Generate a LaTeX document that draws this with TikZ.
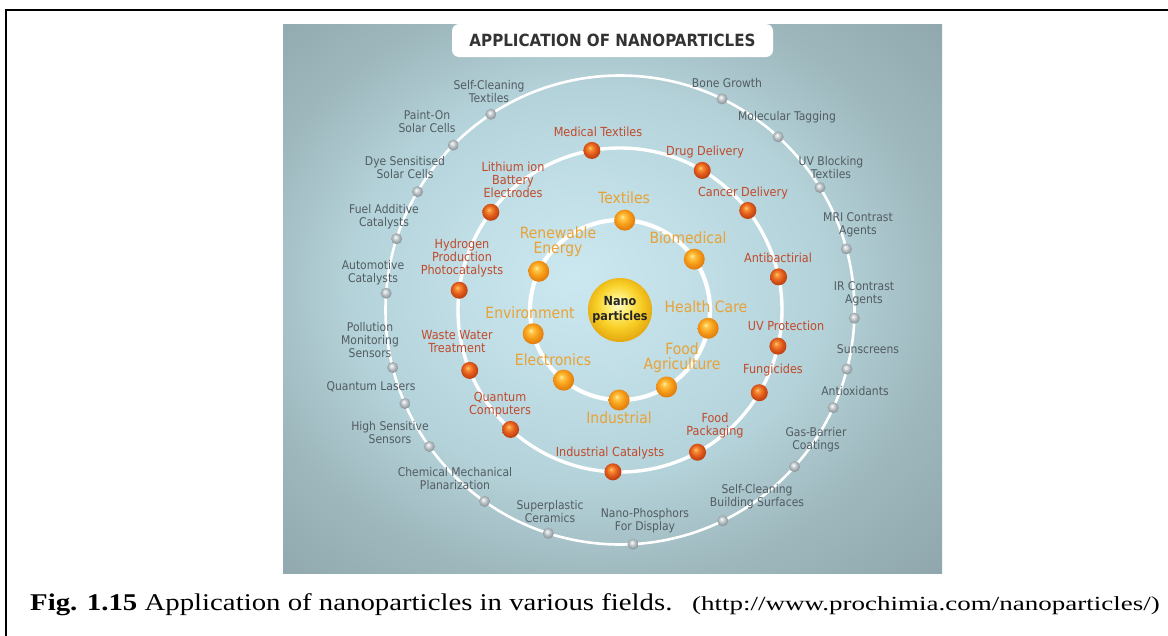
\documentclass[tikz,border=0pt]{standalone}
\usepackage{fontspec}
\setmainfont{Liberation Serif}
\newfontfamily\labfont{DejaVu Sans}[FakeStretch=0.9]
\newfontfamily\capfont{Liberation Serif}[FakeStretch=1.2]
\newfontfamily\urlfont{Liberation Serif}[FakeStretch=1.35]
\usetikzlibrary{calc}

% panel colours
\definecolor{panelC}{HTML}{CBE8F0}
\definecolor{panelM}{HTML}{B4D2D9}
\definecolor{panelE}{HTML}{9DB7BC}
\definecolor{panelK}{HTML}{90A8AD}
% orange spheres
\definecolor{oHi}{HTML}{FFF1B8}
\definecolor{oLt}{HTML}{FFC94A}
\definecolor{oMid}{HTML}{F8A11C}
\definecolor{oRim}{HTML}{E27C0C}
% red spheres
\definecolor{rHi}{HTML}{FFD47C}
\definecolor{rLt}{HTML}{F8963A}
\definecolor{rMid}{HTML}{E5601E}
\definecolor{rRim}{HTML}{BC3E10}
% silver spheres
\definecolor{gHi}{HTML}{FFFFFF}
\definecolor{gLt}{HTML}{E2E6E8}
\definecolor{gMid}{HTML}{B3BBBF}
\definecolor{gRim}{HTML}{868F94}
% central sphere
\definecolor{yHi}{HTML}{FFFBD2}
\definecolor{yLt}{HTML}{FFEC72}
\definecolor{yMid}{HTML}{F8D027}
\definecolor{yRim}{HTML}{E6AC12}
% text colours
\definecolor{txtOuter}{HTML}{525C61}
\definecolor{txtMid}{HTML}{C04A2C}
\definecolor{txtIn}{HTML}{E8A236}
\definecolor{txtTitle}{HTML}{333333}

\pgfdeclareradialshading{panelglow}{\pgfpoint{-3bp}{2bp}}{%
  color(0bp)=(panelC); color(9bp)=(panelC!55!panelM); color(18bp)=(panelM);
  color(27bp)=(panelE); color(36bp)=(panelK); color(50bp)=(panelK)}
\pgfdeclareradialshading{ballOrange}{\pgfpoint{-6bp}{8bp}}{%
  color(0bp)=(oHi); color(5bp)=(oLt); color(15bp)=(oMid);
  color(27bp)=(oRim); color(50bp)=(oRim)}
\pgfdeclareradialshading{ballRed}{\pgfpoint{-6bp}{8bp}}{%
  color(0bp)=(rHi); color(5bp)=(rLt); color(15bp)=(rMid);
  color(27bp)=(rRim); color(50bp)=(rRim)}
\pgfdeclareradialshading{ballSilver}{\pgfpoint{-6bp}{8bp}}{%
  color(0bp)=(gHi); color(5bp)=(gLt); color(15bp)=(gMid);
  color(27bp)=(gRim); color(50bp)=(gRim)}
\pgfdeclareradialshading{ballCore}{\pgfpoint{-2bp}{5bp}}{%
  color(0bp)=(yHi); color(8bp)=(yLt); color(17bp)=(yMid);
  color(26bp)=(yRim); color(50bp)=(yRim)}

\tikzset{
  sphere/.style={circle, inner sep=0pt, shade},
  inball/.style={sphere, shading=ballOrange, minimum size=21pt},
  midball/.style={sphere, shading=ballRed, minimum size=17pt},
  outball/.style={sphere, shading=ballSilver, minimum size=11pt},
  outlab/.style={align=center, inner sep=0pt, text=txtOuter,
    font=\labfont\fontsize{12}{13}\selectfont},
  midlab/.style={align=center, inner sep=0pt, text=txtMid,
    font=\labfont\fontsize{12.5}{13}\selectfont},
  inlab/.style={align=center, inner sep=0pt, text=txtIn,
    font=\labfont\fontsize{15.5}{15}\selectfont},
  ring/.style={draw=white},
}

\begin{document}
\begin{tikzpicture}[x=1pt, y=-1pt]
\useasboundingbox (0,0) rectangle (1168,635);

% page frame
\draw[line width=2pt] (5.5,640) -- (5.5,10) -- (1175,10);

% background panel
\shade[shading=panelglow] (283,24) rectangle (942,573);

% title tab
\node[fill=white, rounded corners=7pt, minimum width=321pt, minimum height=33pt,
  inner sep=0pt, text=txtTitle, font=\labfont\bfseries\fontsize{16.8}{18}\selectfont]
  (title) at (612.5,40.5) {APPLICATION OF NANOPARTICLES};

% orbits
\coordinate (C) at (620,310);
\draw[ring, line width=2.6pt] (C) circle[radius=234.5];
\draw[ring, line width=3.4pt] (C) circle[radius=162];
\draw[ring, line width=4.2pt] (C) circle[radius=90];

% central sphere
\node[sphere, shading=ballCore, minimum size=64pt, align=center,
  text=black!85, font=\labfont\bfseries\fontsize{12.5}{15}\selectfont]
  (core) at (C) {Nano\\particles};

% inner orbit
\node[inball] (i1) at ($(C)+(-87:90)$) {};
\node[inball] (i2) at ($(C)+(-34.4:90)$) {};
\node[inball] (i3) at ($(C)+(11.7:90)$) {};
\node[inball] (i4) at ($(C)+(58.8:90)$) {};
\node[inball] (i5) at ($(C)+(90.6:90)$) {};
\node[inball] (i6) at ($(C)+(128.8:90)$) {};
\node[inball] (i7) at ($(C)+(164.7:90)$) {};
\node[inball] (i8) at ($(C)+(205.5:90)$) {};

\node[inlab] (li1) at (624,198) {Textiles};
\node[inlab] (li2) at (688,238) {Biomedical};
\node[inlab] (li3) at (706,307) {Health Care};
\node[inlab] (li4) at (682,358) {Food\\Agriculture};
\node[inlab] (li5) at (619,418) {Industrial};
\node[inlab] (li6) at (553,360) {Electronics};
\node[inlab] (li7) at (530,313) {Environment};
\node[inlab] (li8) at (558,241.5) {Renewable\\Energy};

% middle orbit
\node[midball] (m1) at ($(C)+(260:162)$) {};
\node[midball] (m2) at ($(C)+(-59.5:162)$) {};
\node[midball] (m3) at ($(C)+(-37.9:162)$) {};
\node[midball] (m4) at ($(C)+(-11.8:162)$) {};
\node[midball] (m5) at ($(C)+(12.9:162)$) {};
\node[midball] (m6) at ($(C)+(30.7:162)$) {};
\node[midball] (m7) at ($(C)+(61.4:162)$) {};
\node[midball] (m8) at ($(C)+(92.5:162)$) {};
\node[midball] (m9) at ($(C)+(132.5:162)$) {};
\node[midball] (m10) at ($(C)+(158.1:162)$) {};
\node[midball] (m11) at ($(C)+(187:162)$) {};
\node[midball] (m12) at ($(C)+(217.1:162)$) {};

\node[midlab] (lm1) at (598,132) {Medical Textiles};
\node[midlab] (lm2) at (705,152) {Drug Delivery};
\node[midlab] (lm3) at (743,193) {Cancer Delivery};
\node[midlab] (lm4) at (778,258) {Antibactirial};
\node[midlab] (lm5) at (786,326) {UV Protection};
\node[midlab] (lm6) at (773,370) {Fungicides};
\node[midlab] (lm7) at (715,425.5) {Food\\Packaging};
\node[midlab] (lm8) at (610,453) {Industrial Catalysts};
\node[midlab] (lm9) at (500,404.5) {Quantum\\Computers};
\node[midlab] (lm10) at (457,341.5) {Waste Water\\Treatment};
\node[midlab] (lm11) at (462,258) {Hydrogen\\Production\\Photocatalysts};
\node[midlab] (lm12) at (513,180) {Lithium ion\\Battery\\Electrodes};

% outer orbit
\node[outball] (o1) at ($(C)+(236.6:234.5)$) {};
\node[outball] (o2) at ($(C)+(224.7:234.5)$) {};
\node[outball] (o3) at ($(C)+(210.3:234.5)$) {};
\node[outball] (o4) at ($(C)+(197.7:234.5)$) {};
\node[outball] (o5) at ($(C)+(184.1:234.5)$) {};
\node[outball] (o6) at ($(C)+(165.8:234.5)$) {};
\node[outball] (o7) at ($(C)+(156.5:234.5)$) {};
\node[outball] (o8) at ($(C)+(144.4:234.5)$) {};
\node[outball] (o9) at ($(C)+(125.3:234.5)$) {};
\node[outball] (o10) at ($(C)+(107.8:234.5)$) {};
\node[outball] (o11) at ($(C)+(86.8:234.5)$) {};
\node[outball] (o12) at ($(C)+(64:234.5)$) {};
\node[outball] (o13) at ($(C)+(41.9:234.5)$) {};
\node[outball] (o14) at ($(C)+(24.6:234.5)$) {};
\node[outball] (o15) at ($(C)+(14.6:234.5)$) {};
\node[outball] (o16) at ($(C)+(2:234.5)$) {};
\node[outball] (o17) at ($(C)+(-15.1:234.5)$) {};
\node[outball] (o18) at ($(C)+(-31.5:234.5)$) {};
\node[outball] (o19) at ($(C)+(-47.6:234.5)$) {};
\node[outball] (o20) at ($(C)+(-64.2:234.5)$) {};

\node[outlab] (lo1) at (489,91.5) {Self-Cleaning\\Textiles};
\node[outlab] (lo2) at (427,121.5) {Paint-On\\Solar Cells};
\node[outlab] (lo3) at (405,168) {Dye Sensitised\\Solar Cells};
\node[outlab] (lo4) at (384,217) {Fuel Additive\\Catalysts};
\node[outlab] (lo5) at (373,273) {Automotive\\Catalysts};
\node[outlab] (lo6) at (370,340) {Pollution\\Monitoring\\Sensors};
\node[outlab] (lo7) at (371,387) {Quantum Lasers};
\node[outlab] (lo8) at (390,433) {High Sensitive\\Sensors};
\node[outlab] (lo9) at (455,479) {Chemical Mechanical\\Planarization};
\node[outlab] (lo10) at (550,512) {Superplastic\\Ceramics};
\node[outlab] (lo11) at (645,521) {Nano-Phosphors\\For Display};
\node[outlab] (lo12) at (757,497) {Self-Cleaning\\Building Surfaces};
\node[outlab] (lo13) at (816,440) {Gas-Barrier\\Coatings};
\node[outlab] (lo14) at (855,391) {Antioxidants};
\node[outlab] (lo15) at (868,349) {Sunscreens};
\node[outlab] (lo16) at (864,293.5) {IR Contrast\\Agents};
\node[outlab] (lo17) at (858,224.5) {MRI Contrast\\Agents};
\node[outlab] (lo18) at (831,168) {UV Blocking\\Textiles};
\node[outlab] (lo19) at (787,117) {Molecular Tagging};
\node[outlab] (lo20) at (727,83) {Bone Growth};

% caption
\node[anchor=base west, inner sep=0pt, font=\capfont\fontsize{24}{28}\selectfont]
  (cap) at (30,610) {\textbf{Fig. 1.15} Application of nanoparticles in various fields.};
\node[anchor=base east, inner sep=0pt, font=\urlfont\fontsize{20}{24}\selectfont]
  (url) at (1160,610) {(http://www.prochimia.com/nanoparticles/)};
\end{tikzpicture}
\end{document}
